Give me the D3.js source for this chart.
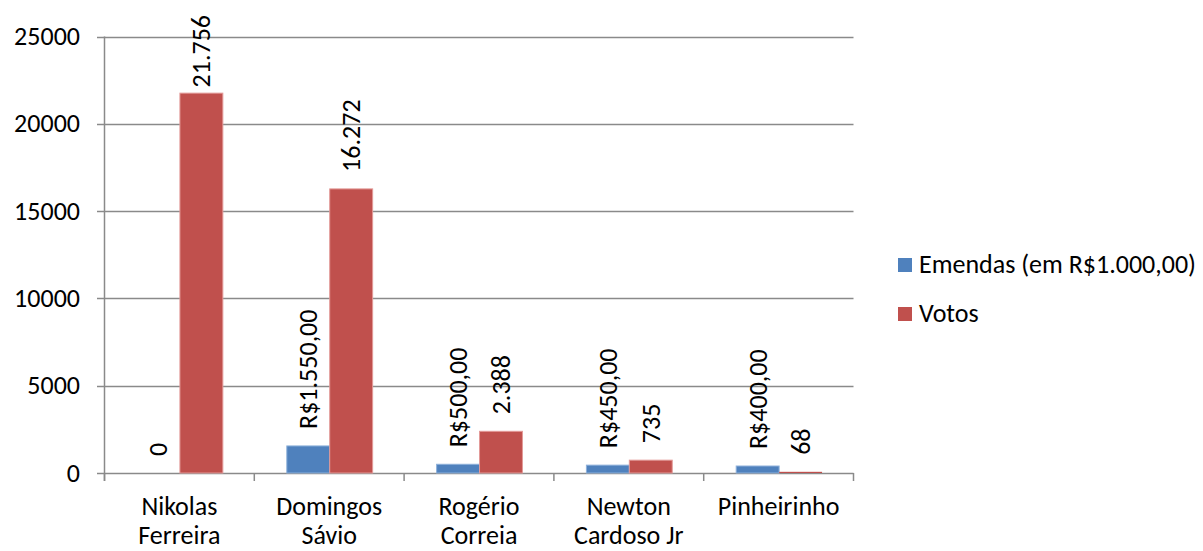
<!DOCTYPE html>
<html>
<head>
<meta charset="utf-8">
<script src="https://cdn.jsdelivr.net/npm/d3@7"></script>
<style>
  html, body { margin: 0; padding: 0; background: #fff; }
  svg { display: block; font-family: Carlito, Calibri, "Open Sans", sans-serif; }
</style>
</head>
<body>
<svg id="chart" width="1203" height="551"></svg>
<script>
// Candidates (category labels split over two lines)
const categories = ["Nikolas Ferreira", "Domingos Sávio", "Rogério Correia", "Newton Cardoso Jr", "Pinheirinho"];
const categoryLines = [["Nikolas", "Ferreira"], ["Domingos", "Sávio"], ["Rogério", "Correia"], ["Newton", "Cardoso Jr"], ["Pinheirinho"]];

// Series
const seriesNames = ["Emendas (em R$1.000,00)", "Votos"];
const emendas = [0, 1550, 500, 450, 400];
const votos = [21756, 16272, 2388, 735, 68];
const seriesColors = ["#4F81BD", "#C0504D"];
const seriesEdges = ["#8db0da", "#e39a98"];

// Y axis ticks
const yTicks = [0, 5000, 10000, 15000, 20000, 25000];

const svg = d3.select("#chart");
const fontSize = 26;
const gridColor = "#8a8a8a";

const plot = { left: 104.5, right: 853.5, top: 36.5, bottom: 473 };

const y = d3.scaleLinear().domain([0, 25000]).range([plot.bottom, plot.top]);
const x0 = d3.scaleBand().domain(categories).range([plot.left, plot.right]).padding(0);
const bw = x0.bandwidth();
const x1 = d3.scaleBand().domain(seriesNames).range([bw * 0.217, bw * 0.79]).padding(0);

// number formats (pt-BR style)
const ptBR = d3.formatLocale({ decimal: ",", thousands: ".", grouping: [3], currency: ["R$", ""] });
const fmtMoney = v => v === 0 ? "0" : ptBR.format("$,.2f")(v);
const fmtVotes = v => ptBR.format(",d")(v);

// horizontal gridlines with left tick stubs
svg.append("g").selectAll("line").data(yTicks).join("line")
  .attr("x1", plot.left - 7.5).attr("x2", plot.right)
  .attr("y1", d => Math.round(y(d)) + 0.5).attr("y2", d => Math.round(y(d)) + 0.5)
  .attr("stroke", gridColor).attr("stroke-width", 1.5);

// y axis labels
svg.append("g").selectAll("text").data(yTicks).join("text")
  .attr("x", 80).attr("y", d => y(d) + 8.5)
  .attr("text-anchor", "end").attr("font-size", fontSize).attr("fill", "#000")
  .text(d => d);

// bars
const rows = categories.map((c, i) => ({ cat: c, values: [emendas[i], votos[i]] }));
const groups = svg.append("g").selectAll("g").data(rows).join("g")
  .attr("transform", d => `translate(${x0(d.cat)},0)`);

groups.selectAll("rect").data(d => d.values.map((v, k) => ({ key: seriesNames[k], v, k })))
  .join("rect")
  .attr("x", d => x1(d.key))
  .attr("width", x1.bandwidth())
  .attr("y", d => y(d.v))
  .attr("height", d => y(0) - y(d.v))
  .attr("fill", d => seriesColors[d.k])
  // light edge only on bars tall enough to show it
  .attr("stroke", d => (y(0) - y(d.v)) > 4 ? seriesEdges[d.k] : "none")
  .attr("stroke-width", 1);

// y axis line
svg.append("line")
  .attr("x1", plot.left).attr("x2", plot.left)
  .attr("y1", plot.top).attr("y2", plot.bottom + 8)
  .attr("stroke", gridColor).attr("stroke-width", 1.5);

// category tick marks below the baseline
svg.append("g").selectAll("line").data(d3.range(categories.length + 1)).join("line")
  .attr("x1", i => plot.left + i * bw).attr("x2", i => plot.left + i * bw)
  .attr("y1", plot.bottom).attr("y2", plot.bottom + 8)
  .attr("stroke", gridColor).attr("stroke-width", 1.5);

// value labels, rotated, placed above each bar (kept inside the top edge)
groups.selectAll("text.val").data(d => d.values.map((v, k) => ({ key: seriesNames[k], v, k })))
  .join("text")
  .attr("class", "val")
  .attr("font-size", fontSize).attr("fill", "#000")
  .attr("text-anchor", "start")
  .attr("dominant-baseline", "central")
  .text(d => d.k === 0 ? fmtMoney(d.v) : fmtVotes(d.v))
  .each(function (d) {
    const len = this.getComputedTextLength();
    let start = y(d.v) - 17;
    if (start - len < 15) start = 15 + len;
    const cx = x1(d.key) + x1.bandwidth() / 2;
    d3.select(this).attr("transform", `translate(${cx},${start}) rotate(-90)`);
  });

// category labels
groups.each(function (d, i) {
  const g = d3.select(this);
  categoryLines[i].forEach((line, j) => {
    g.append("text")
      .attr("x", bw / 2).attr("y", 515 + j * 29)
      .attr("text-anchor", "middle").attr("font-size", fontSize).attr("fill", "#000")
      .text(line);
  });
});

// legend
const legend = svg.append("g").selectAll("g").data(seriesNames).join("g")
  .attr("transform", (d, i) => `translate(898,${258 + i * 49})`);
legend.append("rect").attr("width", 14).attr("height", 14).attr("fill", (d, i) => seriesColors[i]);
legend.append("text").attr("x", 21).attr("y", 15)
  .attr("font-size", fontSize).attr("fill", "#000").text(d => d);
</script>
</body>
</html>
